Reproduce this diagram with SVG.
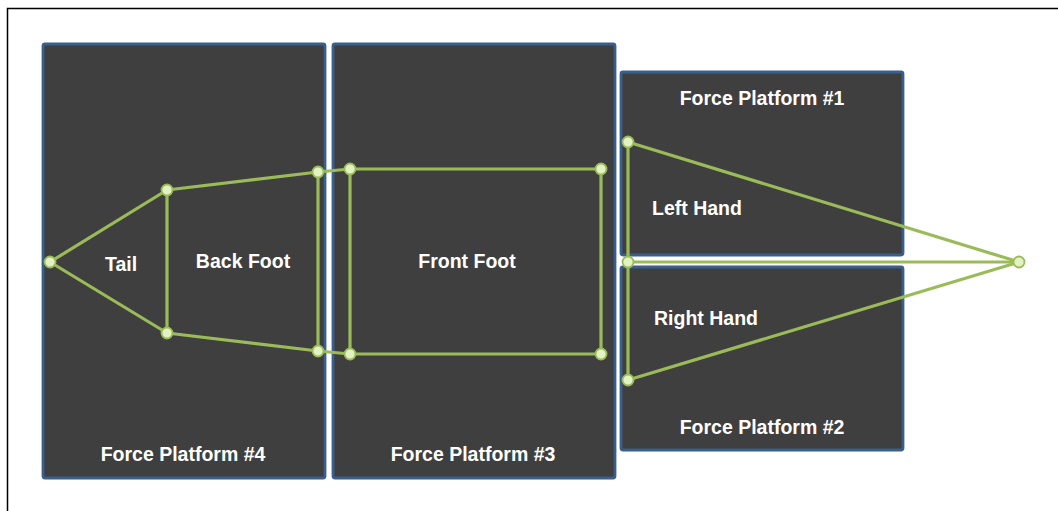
<svg xmlns="http://www.w3.org/2000/svg" width="1058" height="511" viewBox="0 0 1058 511">
<style>
.plat{fill:#3f3f3f;stroke:#3a5f8c;stroke-width:2.8}
.lbl{font-family:"Liberation Sans",Arial,sans-serif;font-weight:bold;font-size:19.5px;fill:#ffffff;text-anchor:middle}
.ln{stroke:#9bbb59;stroke-width:3.2;fill:none;stroke-linecap:round}
.nd{fill:#e3f2c2;stroke:#9bbb59;stroke-width:1.8}
</style>
<rect width="1058" height="511" fill="#ffffff"/>
<path d="M7.5 511 V8.5 H1058" stroke="#000000" stroke-width="1.5" fill="none"/>
<g id="fp4"><rect class="plat" x="43" y="44" width="282" height="434" rx="2"/><text class="lbl" x="183" y="461">Force Platform #4</text></g>
<g id="fp3"><rect class="plat" x="333" y="44" width="282" height="434" rx="2"/><text class="lbl" x="473" y="461">Force Platform #3</text></g>
<g id="fp1"><rect class="plat" x="621" y="72" width="282" height="183" rx="2"/><text class="lbl" x="762" y="105">Force Platform #1</text></g>
<g id="fp2"><rect class="plat" x="621" y="267" width="282" height="183" rx="2"/><text class="lbl" x="762" y="434">Force Platform #2</text></g>
<g id="connectors">
<line class="ln" x1="50" y1="262" x2="167" y2="190"/>
<line class="ln" x1="50" y1="262" x2="167" y2="333"/>
<line class="ln" x1="167" y1="190" x2="167" y2="333"/>
<line class="ln" x1="167" y1="190" x2="318" y2="172"/>
<line class="ln" x1="167" y1="333" x2="318" y2="351"/>
<line class="ln" x1="318" y1="172" x2="318" y2="351"/>
<line class="ln" x1="318" y1="172" x2="350" y2="169"/>
<line class="ln" x1="318" y1="351" x2="350" y2="354"/>
<line class="ln" x1="350" y1="169" x2="601" y2="169"/>
<line class="ln" x1="350" y1="354" x2="601" y2="354"/>
<line class="ln" x1="350" y1="169" x2="350" y2="354"/>
<line class="ln" x1="601" y1="169" x2="601" y2="354"/>
<line class="ln" x1="628" y1="142" x2="628" y2="380"/>
<line class="ln" x1="628" y1="142" x2="1019" y2="262"/>
<line class="ln" x1="628" y1="262" x2="1019" y2="262"/>
<line class="ln" x1="628" y1="380" x2="1019" y2="262"/>
</g>
<g id="labels">
<text class="lbl" x="121" y="271">Tail</text>
<text class="lbl" x="243" y="268">Back Foot</text>
<text class="lbl" x="467" y="268">Front Foot</text>
<text class="lbl" x="697" y="215">Left Hand</text>
<text class="lbl" x="706" y="325">Right Hand</text>
</g>
<g id="nodes">
<circle class="nd" cx="50" cy="262" r="5.5"/>
<circle class="nd" cx="167" cy="190" r="5.5"/>
<circle class="nd" cx="167" cy="333" r="5.5"/>
<circle class="nd" cx="318" cy="172" r="5.5"/>
<circle class="nd" cx="318" cy="351" r="5.5"/>
<circle class="nd" cx="350" cy="169" r="5.5"/>
<circle class="nd" cx="350" cy="354" r="5.5"/>
<circle class="nd" cx="601" cy="169" r="5.5"/>
<circle class="nd" cx="601" cy="354" r="5.5"/>
<circle class="nd" cx="628" cy="142" r="5.5"/>
<circle class="nd" cx="628" cy="262" r="5.5"/>
<circle class="nd" cx="628" cy="380" r="5.5"/>
<circle class="nd" cx="1019" cy="262" r="5.5"/>
</g>
</svg>
